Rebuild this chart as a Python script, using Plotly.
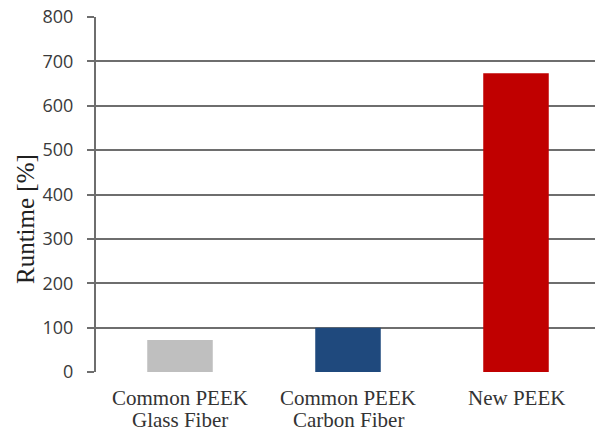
import plotly.graph_objects as go

# Material categories and relative runtime values
categories = ["Common PEEK<br>Glass Fiber", "Common PEEK<br>Carbon Fiber", "New PEEK"]
runtime = [72, 100, 673]
bar_colors = ["#bfbfbf", "#1f497d", "#c00000"]
y_ticks = [0, 100, 200, 300, 400, 500, 600, 700, 800]

W, H = 595, 431
left, right, top, bottom = 96, 0, 17, 59
plot_w = W - left - right
plot_h = H - top - bottom
cat_px = 168  # pixel width of one category slot
label_rows_px = [398, 420]  # vertical centres of the category label lines


def paper_y(px):
    return (H - bottom - px) / plot_h


fig = go.Figure(
    go.Bar(
        x=list(range(len(categories))),
        y=runtime,
        marker=dict(color=bar_colors, line=dict(width=0)),
        width=0.39,
    )
)

# Category labels, one annotation per text line for a tight line spacing
annotations = []
for i, label in enumerate(categories):
    for row, line in enumerate(label.split("<br>")):
        annotations.append(
            dict(
                text=line,
                xref="x",
                yref="paper",
                x=i,
                y=paper_y(label_rows_px[row]),
                xanchor="center",
                yanchor="middle",
                showarrow=False,
                font=dict(family="Liberation Serif", size=21, color="#333333"),
            )
        )

annotations.append(
    dict(
        text="Runtime [%]",
        xref="paper",
        yref="paper",
        x=(25 - left) / plot_w,
        y=paper_y(219),
        xanchor="center",
        yanchor="middle",
        textangle=-90,
        showarrow=False,
        font=dict(family="Liberation Serif", size=25, color="#202020"),
    )
)

grid_col = "#6e6e6e"
fig.update_layout(
    width=W,
    height=H,
    margin=dict(l=left, r=right, t=top, b=bottom),
    paper_bgcolor="white",
    plot_bgcolor="white",
    showlegend=False,
    xaxis=dict(
        range=[-0.5, -0.5 + plot_w / cat_px],
        tickvals=list(range(len(categories))),
        showticklabels=False,
        showgrid=False,
        zeroline=False,
        showline=False,
        ticks="",
        automargin=False,
    ),
    yaxis=dict(
        range=[0, 800],
        tickvals=y_ticks,
        tickfont=dict(family="Open Sans", size=18, color="#3a3a3a"),
        showgrid=True,
        gridcolor=grid_col,
        gridwidth=2,
        zeroline=False,
        showline=True,
        linecolor=grid_col,
        linewidth=2,
        ticks="outside",
        ticklen=7,
        tickwidth=2,
        tickcolor=grid_col,
        ticklabelstandoff=10,
        automargin=False,
    ),
    annotations=annotations,
)

fig.write_html("out.html")
